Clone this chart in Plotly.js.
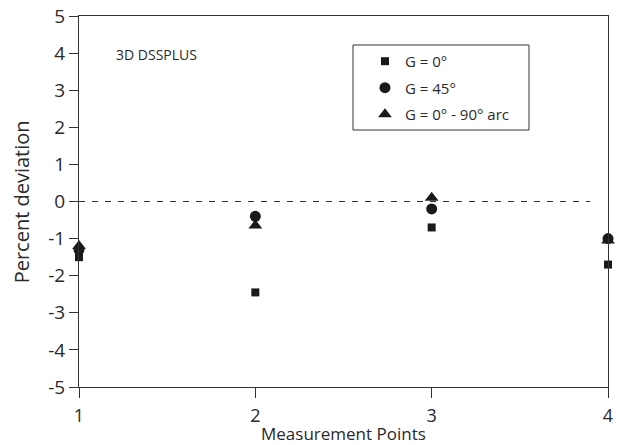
<!DOCTYPE html>
<html>
<head>
<meta charset="utf-8">
<script src="https://cdn.plot.ly/plotly-3.0.1.min.js"></script>
<style>body{margin:0;padding:0;background:#fff;}#chart{width:620px;height:445px;}</style>
</head>
<body>
<div id="chart"></div>
<script>
const measurementPoints = [1, 2, 3, 4];
const g0 = [-1.5, -2.45, -0.7, -1.7];
const g45 = [-1.3, -0.4, -0.2, -1.0];
const g0to90arc = [-1.2, -0.65, 0.1, -1.05];
const seriesNames = ["G = 0°", "G = 45°", "G = 0° - 90° arc"];
const yTicks = [-5, -4, -3, -2, -1, 0, 1, 2, 3, 4, 5];
const yTickLabels = ["-5", "-4", "-3", "-2", "-1", "0", "1", "2", "3", "4", "5"];

const fontFam = "Open Sans, sans-serif";
const ink = "#1a1a1a";
const txt = "#2a2a2a";

const traces = [
  {x: measurementPoints, y: g0, name: seriesNames[0], type: "scatter", mode: "markers",
   marker: {symbol: "square", size: 8, color: ink}, cliponaxis: false, legendgroup: "a"},
  {x: measurementPoints, y: g45, name: seriesNames[1], type: "scatter", mode: "markers",
   marker: {symbol: "circle", size: 11, color: ink}, cliponaxis: false, legendgroup: "b"},
  {x: measurementPoints, y: g0to90arc, name: seriesNames[2], type: "scatter", mode: "markers",
   marker: {symbol: "triangle-up", size: 12, color: ink}, cliponaxis: false, legendgroup: "c"}
];

const layout = {
  width: 620, height: 445,
  margin: {l: 79, r: 12, t: 16, b: 58},
  paper_bgcolor: "#fff", plot_bgcolor: "#fff",
  font: {family: fontFam, color: txt, size: 16},
  showlegend: true,
  legend: {
    x: 0.5406, y: 0.922, xanchor: "left", yanchor: "top",
    borderwidth: 0, bgcolor: "rgba(0,0,0,0)",
    font: {size: 15, family: fontFam, color: txt},
    tracegroupgap: 4
  },
  xaxis: {
    range: [1, 4], tickvals: measurementPoints, ticktext: measurementPoints.map(String),
    showgrid: false, zeroline: false, showline: true, linecolor: "#333", linewidth: 1, mirror: true,
    ticks: "outside", ticklen: 10, tickcolor: "#333", ticklabelstandoff: 2,
    tickfont: {size: 18}
  },
  yaxis: {
    range: [-5, 5], tickvals: yTicks, ticktext: yTickLabels,
    showgrid: false, zeroline: false, showline: true, linecolor: "#333", linewidth: 1, mirror: true,
    ticks: "outside", ticklen: 9, tickcolor: "#333",
    tickfont: {size: 19}
  },
  shapes: [
    {type: "line", xref: "x", yref: "y", x0: 1, x1: 3.9, y0: 0, y1: 0,
     line: {color: "#333", width: 1, dash: "6px,7px"}},
    {type: "rect", xref: "paper", yref: "paper",
     x0: (353 - 79) / 529, x1: (529 - 79) / 529, y0: (387 - 130) / 371, y1: (387 - 45) / 371,
     line: {color: "#333", width: 1}, fillcolor: "rgba(0,0,0,0)", layer: "below"}
  ],
  annotations: [
    {text: "3D DSSPLUS", xref: "paper", yref: "paper", x: 0.066, y: 0.897, xanchor: "left", yanchor: "middle",
     showarrow: false, font: {size: 14, family: fontFam, color: txt}},
    {text: "Measurement Points", xref: "paper", yref: "paper", x: 0.5, y: (387 - 433) / 371, xanchor: "center", yanchor: "middle",
     showarrow: false, font: {size: 17, family: fontFam, color: txt}},
    {text: "Percent deviation", xref: "paper", yref: "paper", x: -0.108, y: 0.5, xanchor: "center", yanchor: "middle",
     textangle: -90, showarrow: false, font: {size: 20, family: fontFam, color: txt}}
  ]
};

Plotly.newPlot("chart", traces, layout, {displayModeBar: false, staticPlot: true});
</script>
</body>
</html>
